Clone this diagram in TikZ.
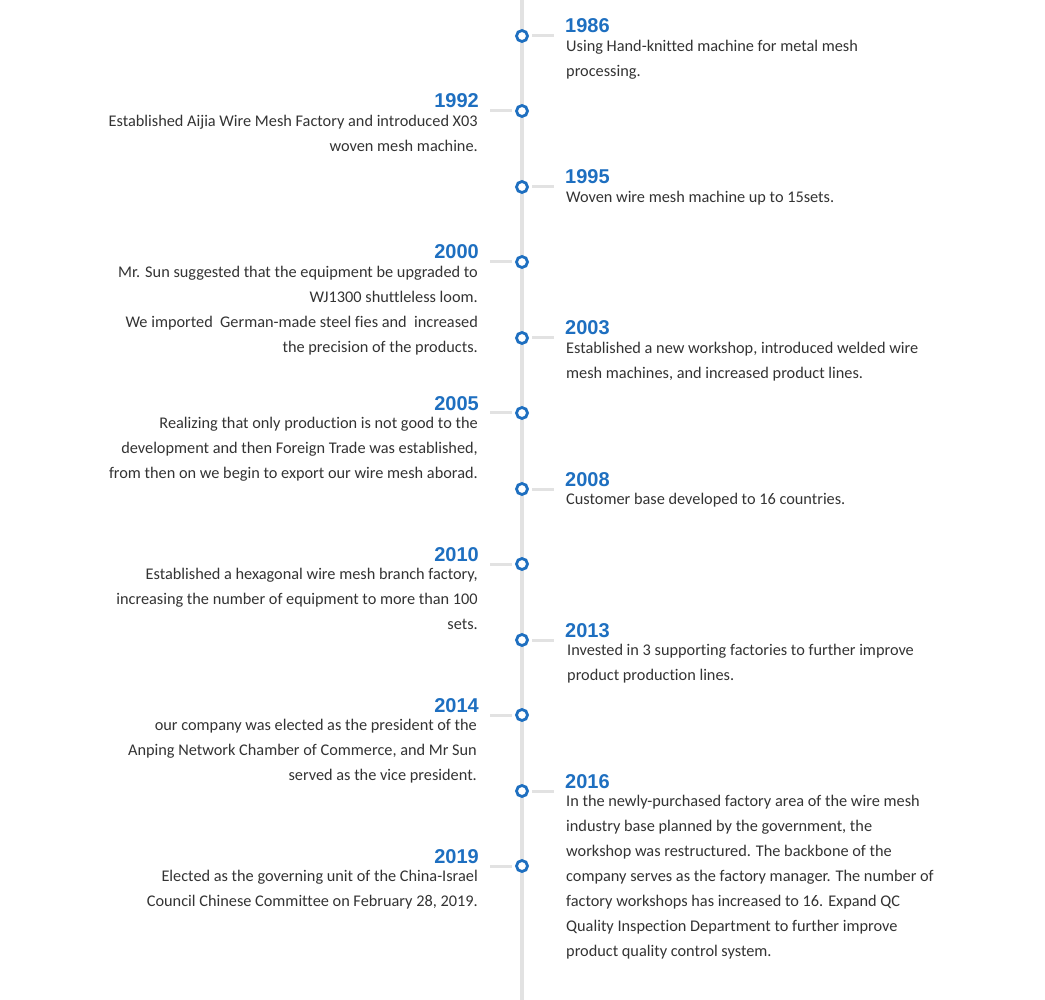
\documentclass[tikz,border=0pt]{standalone}
\usepackage{fontspec}
\setmainfont[Ligatures={NoCommon,NoRare,NoDiscretionary,NoContextual}]{Carlito}
\newfontfamily\yearfont{Liberation Sans}
\definecolor{tblue}{HTML}{1E6FC0}
\definecolor{tgrey}{HTML}{E2E2E2}
\definecolor{ttext}{HTML}{333333}
\begin{document}
\begin{tikzpicture}[x=1pt,y=-1pt,
  dot/.style={circle,draw=tblue,line width=2.8pt,fill=white,minimum size=11pt,inner sep=0pt},
  tick/.style={draw=tgrey,line width=3pt},
  yr/.style={font=\yearfont\bfseries\fontsize{20}{22}\selectfont,text=tblue,inner sep=0pt},
  rtxt/.style={font=\fontsize{16.3}{25}\selectfont,text=ttext,align=left,anchor=north west,inner sep=0pt},
  ltxt/.style={font=\fontsize{16.3}{25}\selectfont,text=ttext,align=right,anchor=north east,inner sep=0pt}]
\useasboundingbox (0,0) rectangle (1045,1000);
\coordinate (top) at (522,0); \coordinate (bot) at (522,1000);
\draw[draw=tgrey,line width=4pt] (top) -- (bot);
% right entries
\foreach \n/\y/\yr in {a/36/1986,c/187/1995,e/338/2003,g/489/2008,i/640/2013,k/791/2016}{
  \node[dot] (d\n) at (522,\y) {};
  \coordinate (t\n) at (554,\y);
  \draw[tick] (d\n.east) ++(3,0) -- (t\n);
  \node[yr,anchor=base west] (y\n) at (565,\y-3) {\yr};
}
\foreach \n/\y/\yr in {b/111/1992,d/262/2000,f/413/2005,h/564/2010,j/715/2014,l/866/2019}{
  \node[dot] (d\n) at (522,\y) {};
  \coordinate (t\n) at (490,\y);
  \draw[tick] (d\n.west) ++(-3,0) -- (t\n);
  \node[yr,anchor=base east] (y\n) at (479,\y-3) {\yr};
}
\node[rtxt] (xa) at (566,40) {Using Hand-knitted machine for metal mesh\\processing.};
\node[ltxt] (xb) at (478,115) {Established Aijia Wire Mesh Factory and introduced X03\\woven mesh machine.};
\node[rtxt] (xc) at (566,191) {Woven wire mesh machine up to 15sets.};
\node[ltxt] (xd) at (478,266) {Mr. Sun suggested that the equipment be upgraded to\\WJ1300 shuttleless loom.\\We imported\ \ German-made steel fies and\ \ increased\\the precision of the products.};
\node[rtxt] (xe) at (566,342) {Established a new workshop, introduced welded wire\\mesh machines, and increased product lines.};
\node[ltxt] (xf) at (478,417) {Realizing that only production is not good to the\\development and then Foreign Trade was established,\\from then on we begin to export our wire mesh aborad.};
\node[rtxt] (xg) at (566,493) {Customer base developed to 16 countries.};
\node[ltxt] (xh) at (478,568) {Established a hexagonal wire mesh branch factory,\\increasing the number of equipment to more than 100\\sets.};
\node[rtxt] (xi) at (567,644) {Invested in 3 supporting factories to further improve\\product production lines.};
\node[ltxt] (xj) at (477,719) {our company was elected as the president of the\\Anping Network Chamber of Commerce, and Mr Sun\\served as the vice president.};
\node[rtxt] (xk) at (566,795) {In the newly-purchased factory area of the wire mesh\\industry base planned by the government, the\\workshop was restructured. The backbone of the\\company serves as the factory manager. The number of\\factory workshops has increased to 16. Expand QC\\Quality Inspection Department to further improve\\product quality control system.};
\node[ltxt] (xl) at (478,870) {Elected as the governing unit of the China-Israel\\Council Chinese Committee on February 28, 2019.};
\end{tikzpicture}
\end{document}
